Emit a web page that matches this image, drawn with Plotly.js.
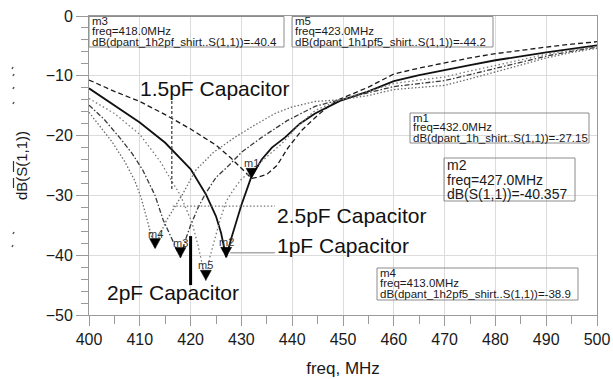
<!DOCTYPE html>
<html>
<head>
<meta charset="utf-8">
<script src="https://cdn.plot.ly/plotly-3.0.1.min.js"></script>
<style>
  html, body { margin: 0; padding: 0; background: #fff; }
  #chart { width: 613px; height: 379px; }
</style>
</head>
<body>
<div id="chart"></div>
<script>
// S11 sweeps of the shirt antenna, one per tuning capacitor (freq in MHz, level in dB)
const freq_1h = [400, 405, 410, 415, 420, 425, 428, 430, 432, 433, 435, 437, 439.2, 441.9, 444.5, 447, 449.4, 455, 460, 465, 470, 475, 480, 485, 490, 495, 500];
const db_1h   = [-10.7, -12.6, -14.3, -16.5, -18.9, -21.6, -23.8, -25.5, -27.15, -27.0, -26.5, -25.0, -22.0, -19.1, -17.0, -15.2, -13.9, -11.9, -9.7, -8.7, -7.8, -7.0, -6.3, -5.7, -5.2, -4.7, -4.3];

const freq_1pf = [400, 405, 410, 415, 420, 423, 425, 426, 427, 428, 429, 430, 431, 432, 434, 436, 438.6, 441.5, 444.5, 449.4, 455, 460, 465, 470, 475, 480, 485, 490, 495, 500];
const db_1pf   = [-12.1, -14.9, -17.8, -21.2, -25.6, -29.8, -33.5, -36.3, -40.357, -37.2, -34.2, -31.6, -29.2, -26.8, -24.0, -22.0, -20.3, -18.0, -16.3, -14.2, -12.6, -10.9, -9.9, -9.0, -8.2, -7.4, -6.7, -6.1, -5.5, -4.9];

const freq_2pf = [400, 403, 406, 408.5, 410.6, 413, 414.6, 416.5, 418, 419, 420, 421.5, 423, 425, 427.4, 430, 434, 439, 444.5, 449.4, 455, 460, 465, 470, 475, 480, 485, 490, 495, 500];
const db_2pf   = [-14.9, -17.3, -20.3, -23.0, -25.8, -30.0, -34.1, -37.6, -40.4, -37.4, -35.0, -32.0, -29.6, -27.0, -25.1, -22.8, -20.3, -17.5, -15.1, -14.0, -12.9, -11.8, -11.3, -10.8, -9.8, -8.8, -7.8, -6.7, -5.9, -5.2];

const freq_2pf5 = [400, 402, 404.5, 407, 409, 410.3, 411.4, 412.3, 413, 414, 415.3, 417, 418.5, 420.2, 421, 424.5, 428.7, 432.5, 436.6, 440, 444.5, 449.4, 455, 460, 465, 470, 475, 480, 485, 490, 495, 500];
const db_2pf5   = [-16.1, -18.2, -21.0, -24.3, -27.5, -30.5, -34.2, -36.8, -38.9, -36.5, -34.1, -31.7, -29.7, -27.0, -25.8, -22.8, -20.3, -18.3, -16.3, -15.2, -14.3, -14.0, -13.3, -12.3, -12.0, -11.6, -10.5, -9.4, -8.2, -7.0, -6.1, -5.4];

const freq_1pf5 = [400, 405, 410, 414, 416.3, 418, 419.5, 420.3, 421.5, 422.3, 423, 423.8, 425, 425.8, 427, 428.4, 430, 432.7, 435, 438, 441, 444.5, 449.4, 455, 460, 465, 470, 475, 480, 485, 490, 495, 500];
const db_1pf5   = [-13.8, -16.3, -19.8, -24.3, -27.6, -30.0, -33.0, -34.6, -38.5, -41.5, -44.2, -40.3, -36.5, -34.1, -31.0, -29.1, -27.3, -25.3, -23.5, -21.3, -18.5, -15.8, -14.0, -12.6, -11.3, -10.7, -10.2, -9.2, -8.3, -7.3, -6.4, -5.7, -5.1];

// Marker readouts
const markerNames = ['m1', 'm2', 'm3', 'm4', 'm5'];
const markerFreq  = [432.0, 427.0, 418.0, 413.0, 423.0];
const markerDb    = [-27.15, -40.357, -40.4, -38.9, -44.2];
const markerExpr  = ['dpant_1h_shirt..S(1,1)', 'S(1,1)', 'dpant_1h2pf_shirt..S(1,1)', 'dpant_1h2pf5_shirt..S(1,1)', 'dpant_1h1pf5_shirt..S(1,1)'];

// Capacitor call-outs
const capLabels = ['1.5pF Capacitor', '2.5pF Capacitor', '1pF Capacitor', '2pF Capacitor'];

const W = 613, H = 379;
const M = { l: 89, r: 16, t: 16, b: 64 };
const px2x = p => (p - M.l) / (W - M.l - M.r);
const py2y = p => 1 - (p - M.t) / (H - M.t - M.b);

const FONT = 'Liberation Sans, Arial, Helvetica, sans-serif';

const traces = [
  { x: freq_1h,   y: db_1h,   line: { color: '#1a1a1a', width: 1.3, dash: '5px,3px' } },
  { x: freq_1pf,  y: db_1pf,  line: { color: '#111111', width: 1.8, dash: 'solid' } },
  { x: freq_2pf,  y: db_2pf,  line: { color: '#3a3a3a', width: 1.3, dash: '5px,2px,1.5px,2px' } },
  { x: freq_2pf5, y: db_2pf5, line: { color: '#6a6a6a', width: 1.3, dash: '1.5px,2px' } },
  { x: freq_1pf5, y: db_1pf5, line: { color: '#7a7a7a', width: 1.3, dash: '1.5px,2.5px' } }
].map(t => Object.assign({ type: 'scatter', mode: 'lines', hoverinfo: 'skip', showlegend: false }, t));

const shapes = [];
const annotations = [];

// marker triangles (tip on the marked point) and their names
markerNames.forEach((name, i) => {
  shapes.push({
    type: 'path', xref: 'x', yref: 'y',
    xsizemode: 'pixel', ysizemode: 'pixel',
    xanchor: markerFreq[i], yanchor: markerDb[i],
    path: 'M -5.5 10 L 5.5 10 L 0 0 Z',
    fillcolor: '#000', line: { color: '#000', width: 0.5 }
  });
  annotations.push({
    x: markerFreq[i], y: markerDb[i], xref: 'x', yref: 'y',
    text: name, showarrow: false, xanchor: 'center', yanchor: 'bottom', yshift: 7,
    font: { family: FONT, size: 11, color: '#333' }
  });
});

// readout boxes: [marker index, left, top, right, bottom, row centres, font size]
const boxes = [
  [2, 89, 16.5, 284, 47, [21.5, 31.5, 42.0], 11.5],
  [4, 292, 16.5, 493, 47, [21.5, 31.5, 42.0], 11.5],
  [0, 410, 113, 589, 143, [117.5, 127.0, 137.5], 11.5],
  [1, 444, 158, 575, 201, [164.5, 179.5, 193.5], 14],
  [3, 377, 268, 578, 300, [273.0, 283.0, 293.5], 11.5]
];
boxes.forEach(([i, x0, y0, x1, y1, rows, fs]) => {
  shapes.push({
    type: 'rect', xref: 'paper', yref: 'paper',
    x0: px2x(x0), x1: px2x(x1), y0: py2y(y1), y1: py2y(y0),
    line: { color: '#8c8c8c', width: 1 }, fillcolor: 'rgba(0,0,0,0)'
  });
  const lines = [
    markerNames[i],
    'freq=' + markerFreq[i].toFixed(1) + 'MHz',
    'dB(' + markerExpr[i] + ')=' + String(markerDb[i])
  ];
  lines.forEach((txt, k) => {
    annotations.push({
      xref: 'paper', yref: 'paper', x: px2x(x0 + 1), y: py2y(rows[k]),
      xanchor: 'left', yanchor: 'middle', showarrow: false, text: txt,
      font: { family: FONT, size: fs, color: '#1a1a1a' }
    });
  });
});

// capacitor labels with their leader lines
const capPos = [[409.6, -12.1], [436.6, -33.3], [436.6, -38.3], [403.2, -46.3]];
capLabels.forEach((txt, k) => {
  annotations.push({
    xref: 'x', yref: 'y', x: capPos[k][0], y: capPos[k][1],
    xanchor: 'left', yanchor: 'middle', showarrow: false, text: txt,
    font: { family: FONT, size: 21, color: '#111' }
  });
});
shapes.push(
  { type: 'line', xref: 'x', yref: 'y', x0: 416.3, x1: 416.3, y0: -14.2, y1: -29.2, line: { color: '#444', width: 1.3, dash: '3px,2px' } },
  { type: 'line', xref: 'x', yref: 'y', x0: 416.5, x1: 436.6, y0: -31.8, y1: -31.8, line: { color: '#777', width: 1.3, dash: '1.5px,2px' } },
  { type: 'line', xref: 'x', yref: 'y', x0: 427.8, x1: 436.6, y0: -39.6, y1: -39.6, line: { color: '#aaa', width: 1.6 } },
  { type: 'line', xref: 'x', yref: 'y', x0: 420, x1: 420, y0: -36.8, y1: -45.0, line: { color: '#000', width: 3 } }
);

// overbars on the y-axis title and the faint specks beside it
const bars = [[178, 188], [161, 172]];
bars.forEach(([a, b]) => shapes.push({
  type: 'line', xref: 'paper', yref: 'paper',
  x0: px2x(13.5), x1: px2x(13.5), y0: py2y(b), y1: py2y(a),
  line: { color: '#333', width: 1.2 }
}));
const specks = [[12, 67], [13, 74], [13, 87], [13, 102], [13, 232], [12, 245]];
specks.forEach(([sx, sy]) => shapes.push({
  type: 'line', xref: 'paper', yref: 'paper',
  x0: px2x(sx), x1: px2x(sx + 1), y0: py2y(sy + 2), y1: py2y(sy),
  line: { color: '#555', width: 1.5 }
}));

const axisCommon = {
  showline: true, linecolor: '#9a9a9a', linewidth: 1, mirror: true,
  showgrid: true, gridcolor: '#dcdcdc', gridwidth: 1, zeroline: false,
  ticks: 'outside', tickcolor: '#9a9a9a', tickwidth: 1,
  tickfont: { family: FONT, size: 16, color: '#1a1a1a' }
};

const layout = {
  width: W, height: H,
  margin: M,
  paper_bgcolor: '#fff', plot_bgcolor: '#fff',
  font: { family: FONT },
  showlegend: false,
  xaxis: Object.assign({}, axisCommon, {
    range: [400, 500], tick0: 400, dtick: 10, ticklen: 10,
    minor: { dtick: 5, ticks: 'outside', ticklen: 8, tickcolor: '#9a9a9a', showgrid: false },
    title: { text: 'freq, MHz', font: { family: FONT, size: 17, color: '#1a1a1a' }, standoff: 14 }
  }),
  yaxis: Object.assign({}, axisCommon, {
    range: [-50, 0], tick0: 0, dtick: 10, ticklen: 12,
    minor: { dtick: 2, ticks: 'outside', ticklen: 7, tickcolor: '#9a9a9a', showgrid: false },
    title: { text: 'dB(S(1,1))', font: { family: FONT, size: 15, color: '#1a1a1a' }, standoff: 14 }
  }),
  shapes: shapes,
  annotations: annotations
};

Plotly.newPlot('chart', traces, layout, { staticPlot: true, displayModeBar: false });
</script>
</body>
</html>
